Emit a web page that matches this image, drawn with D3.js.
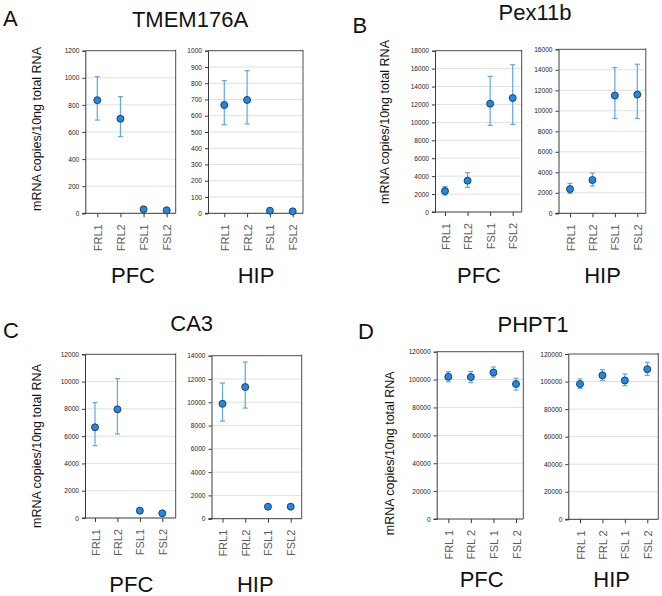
<!DOCTYPE html>
<html><head><meta charset="utf-8">
<script src="https://cdn.jsdelivr.net/npm/d3@7"></script>
<style>body{margin:0;background:#fff}svg{display:block}text{font-family:Arial,"Liberation Sans",sans-serif}</style>
</head><body><svg id="c" width="662" height="596"></svg>
<script>
// ---- data ----
const categories = ["FRL1", "FRL2", "FSL1", "FSL2"];
const categoriesD = ["FRL 1", "FRL 2", "FSL 1", "FSL 2"];
const genes = ["TMEM176A", "Pex11b", "CA3", "PHPT1"];
const panelLetters = ["A", "B", "C", "D"];
const regions = ["PFC", "HIP"];
const yLabel = "mRNA copies/10ng total RNA";

const tmemPfcMean = [835, 698, 30, 22];
const tmemPfcLo   = [688, 566, 26, 18];
const tmemPfcHi   = [1008, 861, 34, 26];
const tmemHipMean = [666, 697, 16, 12];
const tmemHipLo   = [545, 549, 13, 9];
const tmemHipHi   = [816, 877, 19, 15];
const tmemPfcMax = 1200, tmemPfcStep = 200;
const tmemHipMax = 1000, tmemHipStep = 100;

const pexPfcMean = [2343, 3496, 12086, 12718];
const pexPfcLo   = [1897, 2752, 9669, 9780];
const pexPfcHi   = [2826, 4388, 15136, 16437];
const pexHipMean = [2366, 3243, 11491, 11588];
const pexHipLo   = [1948, 2659, 9251, 9251];
const pexHipHi   = [2921, 3925, 14218, 14540];
const pexPfcMax = 18000, pexPfcStep = 2000;
const pexHipMax = 16000, pexHipStep = 2000;

const ca3PfcMean = [6647, 7967, 538, 342];
const ca3PfcLo   = [5303, 6158, 450, 280];
const ca3PfcHi   = [8456, 10215, 620, 400];
const ca3HipMean = [9871, 11308, 1033, 1033];
const ca3HipLo   = [8380, 9500, 950, 950];
const ca3HipHi   = [11650, 13460, 1110, 1110];
const ca3PfcMax = 12000, ca3PfcStep = 2000;
const ca3HipMax = 14000, ca3HipStep = 2000;

const phptPfcMean = [102000, 101800, 105100, 96800];
const phptPfcLo   = [98500, 97800, 101800, 92500];
const phptPfcHi   = [105600, 105800, 109000, 101000];
const phptHipMean = [98200, 104500, 100800, 109000];
const phptHipLo   = [95100, 100800, 97000, 104500];
const phptHipHi   = [101900, 108600, 105500, 113900];
const phptPfcMax = 120000, phptPfcStep = 20000;
const phptHipMax = 120000, phptHipStep = 20000;

// ---- layout (positions only) ----
const svg = d3.select("#c");
const panels = [
  {letter:[3,26], title:[190,26.5], ylab:[37,129], reg:[[133,283],[256,283]], cats:categories,
   plots:[
     {x0:85.3,x1:175.7,y0:50.7,y1:213.3,p0:97.3,p1:166.7,max:tmemPfcMax,step:tmemPfcStep,m:tmemPfcMean,lo:tmemPfcLo,hi:tmemPfcHi},
     {x0:208,x1:303,y0:50.7,y1:213.3,p0:224.3,p1:292.7,max:tmemHipMax,step:tmemHipStep,m:tmemHipMean,lo:tmemHipLo,hi:tmemHipHi}]},
  {letter:[352.5,33], title:[535,20], ylab:[385,122], reg:[[479,282.7],[602.5,282.7]], cats:categories,
   plots:[
     {x0:435,x1:521.7,y0:50.7,y1:212,p0:445,p1:512.7,max:pexPfcMax,step:pexPfcStep,m:pexPfcMean,lo:pexPfcLo,hi:pexPfcHi},
     {x0:558.5,x1:645.8,y0:49.3,y1:213.3,p0:570,p1:637.3,max:pexHipMax,step:pexHipStep,m:pexHipMean,lo:pexHipLo,hi:pexHipHi}]},
  {letter:[3,338], title:[191.7,330.7], ylab:[37.3,446], reg:[[131.3,591.7],[255.3,591.7]], cats:categories,
   plots:[
     {x0:85,x1:175.7,y0:354.3,y1:518,p0:95,p1:162.3,max:ca3PfcMax,step:ca3PfcStep,m:ca3PfcMean,lo:ca3PfcLo,hi:ca3PfcHi},
     {x0:211.5,x1:301.7,y0:355.7,y1:518.7,p0:222.5,p1:290.7,max:ca3HipMax,step:ca3HipStep,m:ca3HipMean,lo:ca3HipLo,hi:ca3HipHi}]},
  {letter:[358,339], title:[533,331.5], ylab:[390,453.3], reg:[[481.7,587.3],[611.7,587.3]], cats:categoriesD,
   plots:[
     {x0:436.7,x1:523.3,y0:351.7,y1:519,p0:448.3,p1:516,max:phptPfcMax,step:phptPfcStep,m:phptPfcMean,lo:phptPfcLo,hi:phptPfcHi},
     {x0:568.3,x1:658.3,y0:354,y1:519.3,p0:580,p1:647.3,max:phptHipMax,step:phptHipStep,m:phptHipMean,lo:phptHipLo,hi:phptHipHi}]}
];

const ptFill = "#2288e6", ptStroke = "#1a3554", errColor = "#62a6e4", gridColor = "#e0e0e0", axisColor = "#3a3a3a";

panels.forEach((P, pi) => {
  svg.append("text").attr("x", P.letter[0]).attr("y", P.letter[1]).attr("font-size", 22).attr("fill", "#111").text(panelLetters[pi]);
  svg.append("text").attr("x", P.title[0]).attr("y", P.title[1]).attr("text-anchor", "middle").attr("font-size", 22).attr("fill", "#111").text(genes[pi]);
  svg.append("text").attr("transform", `translate(${P.ylab[0]},${P.ylab[1]}) rotate(-90)`)
    .attr("text-anchor", "middle").attr("dominant-baseline", "central").attr("font-size", 12.5).attr("fill", "#111").text(yLabel);
  P.reg.forEach((r, ri) => {
    svg.append("text").attr("x", r[0]).attr("y", r[1]).attr("text-anchor", "middle").attr("font-size", 22).attr("fill", "#111").text(regions[ri]);
  });

  P.plots.forEach(pl => {
    const g = svg.append("g");
    const y = d3.scaleLinear().domain([0, pl.max]).range([pl.y1, pl.y0]);
    const x = d3.scalePoint().domain(P.cats).range([pl.p0, pl.p1]);
    const ticks = d3.range(0, pl.max + pl.step / 2, pl.step);
    // gridlines
    g.selectAll(".grid").data(ticks.filter(t => t > 0 && t < pl.max)).join("line")
      .attr("x1", pl.x0).attr("x2", pl.x1).attr("y1", d => y(d)).attr("y2", d => y(d))
      .attr("stroke", gridColor).attr("stroke-width", 1);
    // box: top and right
    g.append("line").attr("x1", pl.x0).attr("x2", pl.x1).attr("y1", pl.y0).attr("y2", pl.y0).attr("stroke", axisColor).attr("stroke-width", 0.9);
    g.append("line").attr("x1", pl.x1).attr("x2", pl.x1).attr("y1", pl.y0 - 1).attr("y2", pl.y1).attr("stroke", axisColor).attr("stroke-width", 0.9);
    // y axis
    const ya = g.append("g").attr("transform", `translate(${pl.x0},0)`)
      .call(d3.axisLeft(y).tickValues(ticks).tickFormat(d3.format("d")).tickSize(3).tickPadding(3));
    ya.select(".domain").attr("stroke", axisColor);
    ya.selectAll(".tick line").attr("stroke", axisColor);
    ya.selectAll(".tick text").attr("font-size", 6.6).attr("fill", "#222").attr("font-family", "Arial, 'Liberation Sans', sans-serif");
    // x axis
    const xa = g.append("g").attr("transform", `translate(0,${pl.y1})`)
      .call(d3.axisBottom(x).tickSize(4).tickSizeOuter(0).tickPadding(0));
    xa.select(".domain").attr("stroke", axisColor).attr("d", `M${pl.x0 - 3},0H${pl.x1}`);
    xa.selectAll(".tick line").attr("stroke", axisColor);
    xa.selectAll(".tick text").attr("font-size", 11).attr("fill", "#5a5a5a")
      .attr("font-family", "Arial, 'Liberation Sans', sans-serif")
      .attr("text-anchor", "end").attr("dy", null)
      .attr("transform", "translate(0,11) rotate(-90)").attr("x", 0).attr("y", 0)
      .attr("dominant-baseline", "central");
    // error bars
    const idx = d3.range(P.cats.length);
    g.selectAll(".eb").data(idx).join("line")
      .attr("x1", i => x(P.cats[i])).attr("x2", i => x(P.cats[i]))
      .attr("y1", i => y(pl.lo[i])).attr("y2", i => y(pl.hi[i]))
      .attr("stroke", errColor).attr("stroke-width", 1.2);
    [pl.lo, pl.hi].forEach(arr => {
      g.selectAll(null).data(idx).join("line")
        .attr("x1", i => x(P.cats[i]) - 2.5).attr("x2", i => x(P.cats[i]) + 2.5)
        .attr("y1", i => y(arr[i])).attr("y2", i => y(arr[i]))
        .attr("stroke", errColor).attr("stroke-width", 1.2);
    });
    // points
    g.selectAll(".pt").data(idx).join("circle")
      .attr("cx", i => x(P.cats[i])).attr("cy", i => y(pl.m[i])).attr("r", 3.5)
      .attr("fill", ptFill).attr("stroke", ptStroke).attr("stroke-width", 0.9);
  });
});
</script>
</body></html>
